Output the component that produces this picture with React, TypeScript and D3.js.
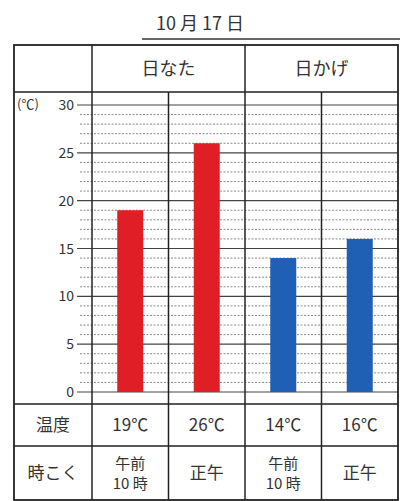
import { useEffect, useRef } from "react";
import * as d3 from "d3";

const title = "10 月 17 日";
const groups = ["日なた", "日かげ"];
const times = ["午前\n10 時", "正午", "午前\n10 時", "正午"];
const temps = [19, 26, 14, 16];
const groupOf = [0, 0, 1, 1];
const yTicks = [0, 5, 10, 15, 20, 25, 30];
const rowLabels = ["温度", "時こく"];

const W = 401;
const H = 501;
const FONT = "'Noto Sans CJK JP', 'Noto Sans', sans-serif";

export default function App() {
  const svgRef = useRef<SVGSVGElement>(null);

  useEffect(() => {
    if (!svgRef.current) return;
    const svg = d3.select(svgRef.current);
    svg.selectAll("*").remove();

    const colors = ["#e01e26", "#1f5fb4"];
    const tableL = 14, tableR = 398, tableT = 45, headB = 92;
    const row1 = 404, row2 = 446, tableB = 500;
    const colL = 92;

    const x = d3.scaleBand<number>()
      .domain(d3.range(temps.length))
      .range([colL, tableR]);
    const y = d3.scaleLinear().domain([0, 30]).range([392, 105]);

    svg.append("rect").attr("width", W).attr("height", H).attr("fill", "#fff");

    // title
    svg.append("text")
      .attr("x", 200).attr("y", 30)
      .attr("text-anchor", "middle")
      .attr("font-family", FONT).attr("font-size", 18).attr("fill", "#333")
      .text(title);
    svg.append("line")
      .attr("x1", 142).attr("x2", 400).attr("y1", 39).attr("y2", 39)
      .attr("stroke", "#333").attr("stroke-width", 1.5);

    // minor grid (dotted)
    const minor = d3.range(0, 31).filter(v => v % 5 !== 0);
    svg.append("g").selectAll("line").data(minor).enter().append("line")
      .attr("x1", 80).attr("x2", tableR)
      .attr("y1", d => y(d)).attr("y2", d => y(d))
      .attr("stroke", "#8a8a8a").attr("stroke-width", 1)
      .attr("stroke-dasharray", "2,1.5");

    // major grid
    svg.append("g").selectAll("line").data(yTicks).enter().append("line")
      .attr("x1", 77).attr("x2", tableR)
      .attr("y1", d => y(d)).attr("y2", d => y(d))
      .attr("stroke", "#444").attr("stroke-width", 1.2);

    svg.append("g").selectAll("text").data(yTicks).enter().append("text")
      .attr("x", 74).attr("y", d => y(d) + 5)
      .attr("text-anchor", "end")
      .attr("font-family", FONT).attr("font-size", 14).attr("fill", "#333")
      .text(d => d);

    svg.append("text")
      .attr("x", 17).attr("y", 109)
      .attr("font-family", FONT).attr("font-size", 13).attr("fill", "#333")
      .text("(℃)");

    // bars
    const bw = 26;
    svg.append("g").selectAll("rect").data(temps).enter().append("rect")
      .attr("x", (_, i) => (x(i) ?? 0) + x.bandwidth() / 2 - bw / 2)
      .attr("width", bw)
      .attr("y", d => y(d))
      .attr("height", d => y(0) - y(d))
      .attr("fill", (_, i) => colors[groupOf[i]]);

    // table lines
    const stroke = "#222";
    const line = (x1: number, y1: number, x2: number, y2: number, w = 1.5) =>
      svg.append("line")
        .attr("x1", x1).attr("y1", y1).attr("x2", x2).attr("y2", y2)
        .attr("stroke", stroke).attr("stroke-width", w);

    svg.append("rect")
      .attr("x", tableL).attr("y", tableT)
      .attr("width", tableR - tableL).attr("height", tableB - tableT)
      .attr("fill", "none").attr("stroke", stroke).attr("stroke-width", 1.8);
    line(tableL, headB, tableR, headB);
    line(tableL, row1, tableR, row1);
    line(tableL, row2, tableR, row2);
    line(colL, tableT, colL, tableB);
    const groupEdge = x(2) ?? 0;
    line(groupEdge, tableT, groupEdge, tableB);
    [1, 3].forEach(i => {
      const xx = x(i) ?? 0;
      line(xx, headB, xx, tableB);
    });

    // group headers
    groups.forEach((g, gi) => {
      const idx = groupOf.map((v, i) => (v === gi ? i : -1)).filter(i => i >= 0);
      const x0 = x(idx[0]) ?? 0;
      const x1 = (x(idx[idx.length - 1]) ?? 0) + x.bandwidth();
      svg.append("text")
        .attr("x", (x0 + x1) / 2).attr("y", 75)
        .attr("text-anchor", "middle")
        .attr("font-family", FONT).attr("font-size", 18).attr("fill", "#333")
        .text(g);
    });

    // row labels
    rowLabels.forEach((r, ri) => {
      const cy = ri === 0 ? (row1 + row2) / 2 : (row2 + tableB) / 2;
      svg.append("text")
        .attr("x", (tableL + colL) / 2).attr("y", cy + 6)
        .attr("text-anchor", "middle")
        .attr("font-family", FONT).attr("font-size", 17).attr("fill", "#333")
        .text(r);
    });

    // temperature cells
    svg.append("g").selectAll("text").data(temps).enter().append("text")
      .attr("x", (_, i) => (x(i) ?? 0) + x.bandwidth() / 2)
      .attr("y", (row1 + row2) / 2 + 6)
      .attr("text-anchor", "middle")
      .attr("font-family", FONT).attr("font-size", 17).attr("fill", "#333")
      .text(d => `${d}℃`);

    // time cells
    times.forEach((t, i) => {
      const lines = t.split("\n");
      const cx = (x(i) ?? 0) + x.bandwidth() / 2;
      const cy = (row2 + tableB) / 2;
      const lh = 20;
      lines.forEach((ln, li) => {
        svg.append("text")
          .attr("x", cx)
          .attr("y", cy + 5.5 + (li - (lines.length - 1) / 2) * lh)
          .attr("text-anchor", "middle")
          .attr("font-family", FONT).attr("font-size", lines.length > 1 ? 15 : 17)
          .attr("fill", "#333")
          .text(ln);
      });
    });
  }, []);

  return (
    <svg
      ref={svgRef}
      width={W}
      height={H}
      style={{ position: "fixed", left: 0, top: 0, display: "block" }}
    />
  );
}
